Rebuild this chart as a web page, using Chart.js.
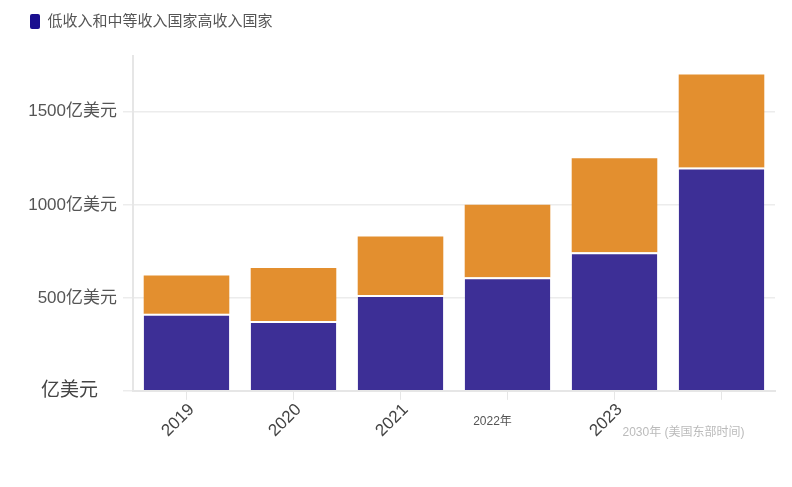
<!DOCTYPE html>
<html>
<head>
<meta charset="utf-8">
<script src="https://cdn.jsdelivr.net/npm/chart.js@4/dist/chart.umd.min.js"></script>
<style>
  html, body { margin: 0; padding: 0; background: #fff; }
  #wrap { width: 792px; height: 487px; }
</style>
</head>
<body>
<div id="wrap"><canvas id="chart"></canvas></div>
<script>
// 数据：按年份堆叠（单位：亿美元）
const years = ['2019', '2020', '2021', '2022年', '2023', '2030年 (美国东部时间)'];
const lowMidIncome = [415, 375, 515, 610, 745, 1200];
const highIncome = [205, 285, 315, 390, 505, 500];
const seriesNames = ['低收入和中等收入国家', '高收入国家'];
const yTicks = [0, 500, 1000, 1500];

const FONT = '"Liberation Sans", "Noto Sans CJK SC", sans-serif';

// 两个不旋转的特殊标签，单独画
const oddLabels = {
  3: { color: '#555', size: 12, dx: -15, dy: 31 },
  5: { color: '#bbb', size: 12, dx: -38, dy: 42 }
};

const oddLabelPlugin = {
  id: 'oddLabels',
  afterDraw(chart) {
    const x = chart.scales.x;
    const ctx = chart.ctx;
    ctx.save();
    Object.keys(oddLabels).forEach(i => {
      const o = oddLabels[i];
      ctx.font = o.size + 'px ' + FONT;
      ctx.fillStyle = o.color;
      ctx.textAlign = 'center';
      ctx.textBaseline = 'middle';
      ctx.fillText(years[i], x.getPixelForTick(+i) + o.dx, x.top + o.dy);
    });
    ctx.restore();
  }
};

// 图例下方留出更多空间
const legendGap = {
  id: 'legendGap',
  beforeInit(chart) {
    const fit = chart.legend.fit;
    chart.legend.fit = function () {
      fit.call(this);
      this.height += 17;
    };
  }
};

new Chart(document.getElementById('chart'), {
  type: 'bar',
  data: {
    labels: years,
    datasets: [
      {
        label: seriesNames[0],
        data: lowMidIncome,
        backgroundColor: '#3d2f96',
        borderColor: '#ffffff',
        borderWidth: { top: 2, left: 0, right: 0, bottom: 0 },
        borderSkipped: false
      },
      {
        label: seriesNames[1],
        data: highIncome,
        backgroundColor: '#e38f2f',
        borderColor: '#ffffff',
        borderWidth: 0
      }
    ]
  },
  options: {
    responsive: true,
    maintainAspectRatio: false,
    animation: false,
    layout: { padding: { left: 20, right: 17, top: 4, bottom: 46 } },
    datasets: { bar: { barPercentage: 0.8, categoryPercentage: 1.0 } },
    plugins: {
      tooltip: { enabled: false },
      legend: {
        display: true,
        position: 'top',
        align: 'start',
        labels: {
          font: { family: FONT, size: 15 },
          color: '#555',
          boxWidth: 10,
          boxHeight: 15,
          padding: 10,
          // 图例只显示一个色块，文字连在一起
          generateLabels: () => [{
            text: seriesNames.join(''),
            fillStyle: '#1a0f8f',
            strokeStyle: '#1a0f8f',
            fontColor: '#555',
            lineWidth: 0,
            borderRadius: 2,
            datasetIndex: 0
          }]
        }
      }
    },
    scales: {
      x: {
        stacked: true,
        border: { color: '#e6e6e6', width: 2 },
        grid: { offset: false, drawOnChartArea: false, drawTicks: true, tickLength: 9, color: '#e6e6e6' },
        ticks: {
          minRotation: 45,
          maxRotation: 45,
          padding: 0,
          labelOffset: 5,
          color: '#444',
          font: { family: FONT, size: 17 },
          callback: (v, i) => oddLabels[i] ? '' : years[i]
        }
      },
      y: {
        stacked: true,
        min: 0,
        max: 1800,
        afterFit: s => { s.width = 113; },
        afterBuildTicks: s => { s.ticks = yTicks.map(v => ({ value: v })); },
        border: { color: '#e6e6e6', width: 2 },
        grid: { color: '#ececec', lineWidth: 1.5, tickLength: 10 },
        ticks: {
          padding: 6,
          color: ctx => ctx.tick && ctx.tick.value === 0 ? '#444' : '#555',
          font: ctx => ({ family: FONT, size: ctx.tick && ctx.tick.value === 0 ? 19 : 17 }),
          callback: v => v === 0 ? '亿美元\u2002\u2002' : v + '亿美元'
        }
      }
    }
  },
  plugins: [oddLabelPlugin, legendGap]
});
</script>
</body>
</html>
